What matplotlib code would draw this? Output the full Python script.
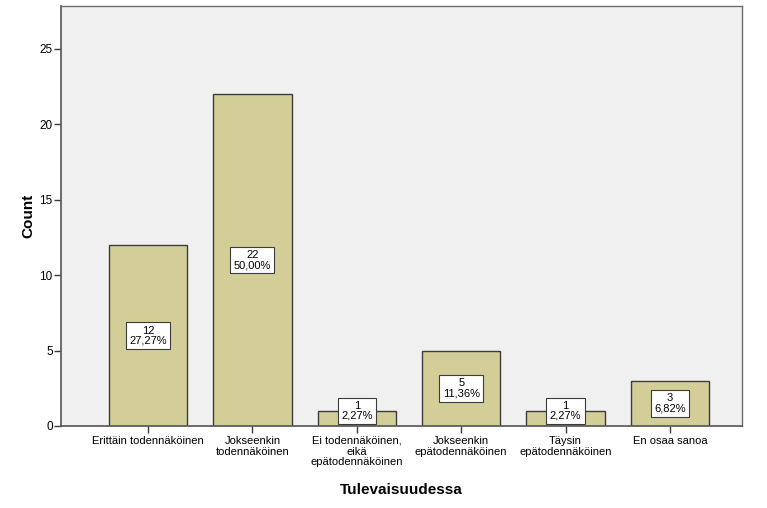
import matplotlib
matplotlib.use('Agg')
import matplotlib.pyplot as plt

# Data
categories = ['Erittäin todennäköinen', 'Jokseenkin\ntodennäköinen',
              'Ei todennäköinen,\neikä\nepätodennäköinen', 'Jokseenkin\nepätodennäköinen',
              'Täysin\nepätodennäköinen', 'En osaa sanoa']
counts = [12, 22, 1, 5, 1, 3]
percents = ['27,27%', '50,00%', '2,27%', '11,36%', '2,27%', '6,82%']

plt.rcParams['font.family'] = ['Liberation Sans', 'DejaVu Sans']

fig = plt.figure(figsize=(7.67, 5.08), dpi=100)
ax = fig.add_axes([61 / 767, 1 - 426 / 508, (742 - 61) / 767, (426 - 6) / 508])
ax.set_facecolor('#F0F0F0')

x = list(range(len(categories)))
ax.bar(x, counts, width=0.75, color='#D3CE98', edgecolor='#3C3C3C', linewidth=1.0, zorder=2)

for xi, c, p in zip(x, counts, percents):
    y = max(c / 2, 1.0)
    ax.text(xi, y, f'{c}\n{p}', ha='center', va='center', fontsize=8, linespacing=1.0,
            bbox=dict(boxstyle='square,pad=0.3', facecolor='white', edgecolor='#3C3C3C', linewidth=0.8),
            zorder=3)

ax.set_xlim(-0.833, 5.69)
ax.set_ylim(0, 27.85)
ax.set_yticks([0, 5, 10, 15, 20, 25])
ax.set_xticks(x)
ax.set_xticklabels(categories, fontsize=8, linespacing=1.1)
ax.tick_params(axis='y', labelsize=8.5, length=5, width=1, color='#3C3C3C', pad=1)
ax.tick_params(axis='x', length=5, width=1, color='#3C3C3C', pad=2)

for side in ['left', 'bottom']:
    ax.spines[side].set_color('#555555')
    ax.spines[side].set_linewidth(1.2)
for side in ['top', 'right']:
    ax.spines[side].set_color('#6E6E6E')
    ax.spines[side].set_linewidth(1.0)

ax.set_ylabel('Count', fontsize=11, fontweight='bold')
ax.set_xlabel('Tulevaisuudessa', fontsize=11, fontweight='bold', labelpad=11)
ax.yaxis.set_label_coords(-26 / 681, 0.5)

fig.savefig('out.png', dpi=100)
